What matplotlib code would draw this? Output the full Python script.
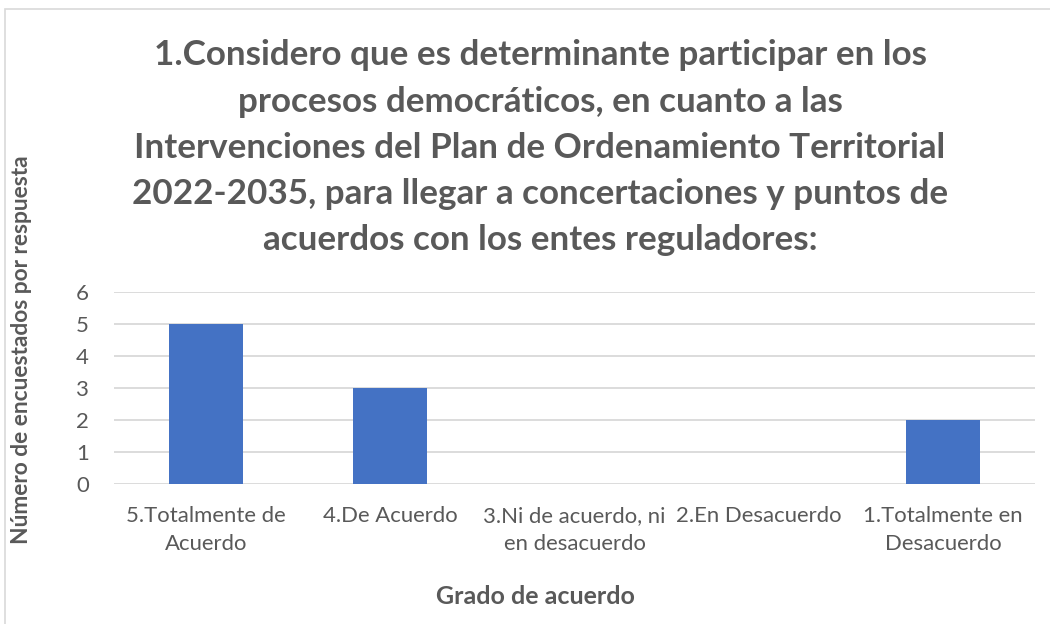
import matplotlib
matplotlib.use("Agg")
import matplotlib.pyplot as plt
from matplotlib.patches import Rectangle

categories = ["5.Totalmente de\nAcuerdo", "4.De Acuerdo", "3.Ni de acuerdo, ni\nen desacuerdo",
              "2.En Desacuerdo", "1.Totalmente en\nDesacuerdo"]
values = [5, 3, 0, 0, 2]
yticks = [0, 1, 2, 3, 4, 5, 6]
title_lines = ["1.Considero que es determinante participar en los",
               "procesos democráticos, en cuanto a las",
               "Intervenciones del Plan de Ordenamiento Territorial",
               "2022-2035, para llegar a concertaciones y puntos de",
               "acuerdos con los entes reguladores:"]
xlabel = "Grado de acuerdo"
ylabel = "Número de encuestados por respuesta"

plt.rcParams['font.family'] = ['Lato', 'DejaVu Sans']
TXT = "#595959"
W, H = 1050, 624
fig = plt.figure(figsize=(W/100, H/100), dpi=100)

# chart border (partially visible)
fig.patches.append(Rectangle((5/W, -0.1), 1.2, (H-9)/H + 0.1, transform=fig.transFigure,
                             fill=False, edgecolor="#D9D9D9", linewidth=1.2))

ax = fig.add_axes([114/W, 1-484/H, (1035-114)/W, (484-292)/H])
x = list(range(len(categories)))
ax.bar(x, values, width=0.40, color="#4472C4", zorder=3)
ax.set_xlim(-0.5, len(categories)-0.5)
ax.set_ylim(0, 6)
ax.set_yticks(yticks)
ax.yaxis.grid(True, color="#D9D9D9", linewidth=1.3, zorder=0)
for s in ax.spines.values():
    s.set_visible(False)
ax.tick_params(axis='both', length=0, labelsize=15.9, colors=TXT, labelcolor=TXT)
ax.tick_params(axis='y', pad=18)
ax.tick_params(axis='x', pad=16)
ax.set_xticks(x)
ax.set_xticklabels(categories, linespacing=1.5)

ys = [55, 102, 148, 194, 240]
for line, yy in zip(title_lines, ys):
    fig.text(540/W, 1-yy/H, line, ha='center', va='center', fontsize=25.2, fontweight='bold', color=TXT)

fig.text(535/W, 1-597/H, xlabel, ha='center', va='center', fontsize=18, fontweight='bold', color=TXT)
fig.text(22/W, 1-350/H, ylabel, ha='center', va='center', rotation=90, fontsize=16.4, fontweight='bold', color=TXT)

fig.savefig("out.png", dpi=100)
